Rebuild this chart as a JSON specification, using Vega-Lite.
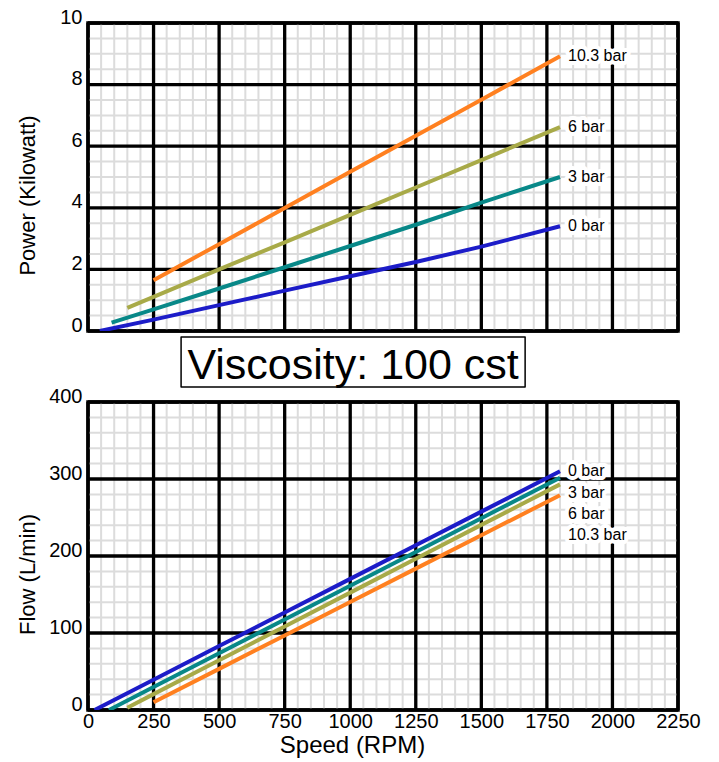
{
  "$schema": "https://vega.github.io/schema/vega-lite/v6.json",
  "background": "white",
  "padding": {"left": 14, "top": 5, "right": 5, "bottom": 2},
  "spacing": -4,
  "bounds": "full",
  "config": {
    "font": "Liberation Sans",
    "view": {"stroke": "black", "strokeWidth": 3.5},
    "axis": {"labelColor": "black", "titleColor": "black", "labelFont": "Liberation Sans", "titleFont": "Liberation Sans", "titleFontWeight": "normal", "ticks": false, "domain": false, "grid": false, "labelOverlap": false}
  },
  "datasets": {
    "rpmMinor": [
      {"rpm": 0}, {"rpm": 50}, {"rpm": 100}, {"rpm": 150}, {"rpm": 200}, {"rpm": 250}, {"rpm": 300}, {"rpm": 350}, {"rpm": 400}, {"rpm": 450},
      {"rpm": 500}, {"rpm": 550}, {"rpm": 600}, {"rpm": 650}, {"rpm": 700}, {"rpm": 750}, {"rpm": 800}, {"rpm": 850}, {"rpm": 900}, {"rpm": 950},
      {"rpm": 1000}, {"rpm": 1050}, {"rpm": 1100}, {"rpm": 1150}, {"rpm": 1200}, {"rpm": 1250}, {"rpm": 1300}, {"rpm": 1350}, {"rpm": 1400}, {"rpm": 1450},
      {"rpm": 1500}, {"rpm": 1550}, {"rpm": 1600}, {"rpm": 1650}, {"rpm": 1700}, {"rpm": 1750}, {"rpm": 1800}, {"rpm": 1850}, {"rpm": 1900}, {"rpm": 1950},
      {"rpm": 2000}, {"rpm": 2050}, {"rpm": 2100}, {"rpm": 2150}, {"rpm": 2200}, {"rpm": 2250}
    ],
    "rpmMajor": [
      {"rpm": 0}, {"rpm": 250}, {"rpm": 500}, {"rpm": 750}, {"rpm": 1000},
      {"rpm": 1250}, {"rpm": 1500}, {"rpm": 1750}, {"rpm": 2000}, {"rpm": 2250}
    ],
    "kwMinor": [
      {"kw": 0}, {"kw": 0.5}, {"kw": 1}, {"kw": 1.5}, {"kw": 2}, {"kw": 2.5}, {"kw": 3}, {"kw": 3.5}, {"kw": 4}, {"kw": 4.5},
      {"kw": 5}, {"kw": 5.5}, {"kw": 6}, {"kw": 6.5}, {"kw": 7}, {"kw": 7.5}, {"kw": 8}, {"kw": 8.5}, {"kw": 9}, {"kw": 9.5}, {"kw": 10}
    ],
    "kwMajor": [{"kw": 0}, {"kw": 2}, {"kw": 4}, {"kw": 6}, {"kw": 8}, {"kw": 10}],
    "lpmMinor": [
      {"lpm": 0}, {"lpm": 20}, {"lpm": 40}, {"lpm": 60}, {"lpm": 80}, {"lpm": 100}, {"lpm": 120}, {"lpm": 140}, {"lpm": 160}, {"lpm": 180},
      {"lpm": 200}, {"lpm": 220}, {"lpm": 240}, {"lpm": 260}, {"lpm": 280}, {"lpm": 300}, {"lpm": 320}, {"lpm": 340}, {"lpm": 360}, {"lpm": 380}, {"lpm": 400}
    ],
    "lpmMajor": [{"lpm": 0}, {"lpm": 100}, {"lpm": 200}, {"lpm": 300}, {"lpm": 400}],
    "power": [
      {"series": "0 bar", "rpm": 45, "kw": 0.0},
      {"series": "0 bar", "rpm": 250, "kw": 0.37},
      {"series": "0 bar", "rpm": 500, "kw": 0.84},
      {"series": "0 bar", "rpm": 750, "kw": 1.31},
      {"series": "0 bar", "rpm": 1000, "kw": 1.78},
      {"series": "0 bar", "rpm": 1250, "kw": 2.24},
      {"series": "0 bar", "rpm": 1500, "kw": 2.74},
      {"series": "0 bar", "rpm": 1800, "kw": 3.4},
      {"series": "3 bar", "rpm": 90, "kw": 0.27},
      {"series": "3 bar", "rpm": 250, "kw": 0.7},
      {"series": "3 bar", "rpm": 500, "kw": 1.38},
      {"series": "3 bar", "rpm": 750, "kw": 2.07},
      {"series": "3 bar", "rpm": 1000, "kw": 2.76},
      {"series": "3 bar", "rpm": 1250, "kw": 3.45},
      {"series": "3 bar", "rpm": 1500, "kw": 4.17},
      {"series": "3 bar", "rpm": 1800, "kw": 5.0},
      {"series": "6 bar", "rpm": 150, "kw": 0.75},
      {"series": "6 bar", "rpm": 250, "kw": 1.11},
      {"series": "6 bar", "rpm": 500, "kw": 2.0},
      {"series": "6 bar", "rpm": 750, "kw": 2.88},
      {"series": "6 bar", "rpm": 1000, "kw": 3.77},
      {"series": "6 bar", "rpm": 1250, "kw": 4.66},
      {"series": "6 bar", "rpm": 1500, "kw": 5.55},
      {"series": "6 bar", "rpm": 1800, "kw": 6.62},
      {"series": "10.3 bar", "rpm": 250, "kw": 1.65},
      {"series": "10.3 bar", "rpm": 500, "kw": 2.82},
      {"series": "10.3 bar", "rpm": 750, "kw": 3.99},
      {"series": "10.3 bar", "rpm": 1000, "kw": 5.17},
      {"series": "10.3 bar", "rpm": 1250, "kw": 6.34},
      {"series": "10.3 bar", "rpm": 1500, "kw": 7.51},
      {"series": "10.3 bar", "rpm": 1800, "kw": 8.92}
    ],
    "flow": [
      {"series": "0 bar", "rpm": 25, "lpm": 0},
      {"series": "0 bar", "rpm": 250, "lpm": 39.3},
      {"series": "0 bar", "rpm": 500, "lpm": 83},
      {"series": "0 bar", "rpm": 750, "lpm": 126.6},
      {"series": "0 bar", "rpm": 1000, "lpm": 170.3},
      {"series": "0 bar", "rpm": 1250, "lpm": 214},
      {"series": "0 bar", "rpm": 1500, "lpm": 257.6},
      {"series": "0 bar", "rpm": 1800, "lpm": 310},
      {"series": "3 bar", "rpm": 80, "lpm": 0},
      {"series": "3 bar", "rpm": 250, "lpm": 29.8},
      {"series": "3 bar", "rpm": 500, "lpm": 73.7},
      {"series": "3 bar", "rpm": 750, "lpm": 117.5},
      {"series": "3 bar", "rpm": 1000, "lpm": 161.4},
      {"series": "3 bar", "rpm": 1250, "lpm": 205.2},
      {"series": "3 bar", "rpm": 1500, "lpm": 249.1},
      {"series": "3 bar", "rpm": 1800, "lpm": 301.7},
      {"series": "6 bar", "rpm": 150, "lpm": 3},
      {"series": "6 bar", "rpm": 250, "lpm": 20.6},
      {"series": "6 bar", "rpm": 500, "lpm": 64.5},
      {"series": "6 bar", "rpm": 750, "lpm": 108.5},
      {"series": "6 bar", "rpm": 1000, "lpm": 152.4},
      {"series": "6 bar", "rpm": 1250, "lpm": 196.4},
      {"series": "6 bar", "rpm": 1500, "lpm": 240.4},
      {"series": "6 bar", "rpm": 1800, "lpm": 293},
      {"series": "10.3 bar", "rpm": 250, "lpm": 10},
      {"series": "10.3 bar", "rpm": 500, "lpm": 53.4},
      {"series": "10.3 bar", "rpm": 750, "lpm": 96.8},
      {"series": "10.3 bar", "rpm": 1000, "lpm": 140.2},
      {"series": "10.3 bar", "rpm": 1250, "lpm": 183.6},
      {"series": "10.3 bar", "rpm": 1500, "lpm": 227},
      {"series": "10.3 bar", "rpm": 1800, "lpm": 279}
    ]
  },
  "vconcat": [
    {
      "width": 590,
      "height": 308,
      "resolve": {"axis": {"x": "independent", "y": "independent"}},
      "layer": [
        {
          "data": {"name": "rpmMinor"},
          "mark": {"type": "rule", "color": "#dcdcdc", "strokeWidth": 2, "strokeJoin": "round"},
          "encoding": {"x": {"field": "rpm", "type": "quantitative", "scale": {"domain": [0, 2250], "nice": false, "zero": false}, "axis": null}}
        },
        {
          "data": {"name": "kwMinor"},
          "mark": {"type": "rule", "color": "#dcdcdc", "strokeWidth": 2, "strokeJoin": "round"},
          "encoding": {"y": {"field": "kw", "type": "quantitative", "scale": {"domain": [0, 10], "nice": false, "zero": false}, "axis": null}}
        },
        {
          "data": {"name": "kwMajor"},
          "mark": {"type": "rule", "color": "black", "strokeWidth": 3.3, "strokeJoin": "round"},
          "encoding": {"y": {"field": "kw", "type": "quantitative",
            "axis": {"orient": "left", "values": [0,2,4,6,8,10], "labelFontSize": 20, "labelBaseline": "alphabetic", "labelPadding": 6, "labelFlush": false, "title": "Power (Kilowatt)", "titleFontSize": 22, "titleX": -49, "titleY": 172}}}
        },
        {
          "data": {"name": "rpmMajor"},
          "mark": {"type": "rule", "color": "black", "strokeWidth": 3.3, "strokeJoin": "round"},
          "encoding": {"x": {"field": "rpm", "type": "quantitative", "axis": null}}
        },
        {
          "data": {"name": "power"},
          "mark": {"type": "line", "strokeWidth": 4, "strokeJoin": "round", "clip": true},
          "encoding": {
            "x": {"field": "rpm", "type": "quantitative", "axis": null},
            "y": {"field": "kw", "type": "quantitative", "axis": null},
            "color": {"field": "series", "type": "nominal", "legend": null,
              "scale": {"domain": ["0 bar", "3 bar", "6 bar", "10.3 bar"], "range": ["#1c1cc8", "#088888", "#a8aa48", "#ff8020"]}}
          }
        },
        {
          "data": {"name": "power"},
          "transform": [{"filter": "datum.rpm == 1800"}],
          "mark": {"type": "text", "align": "left", "baseline": "middle", "dx": 8, "fontSize": 16, "fill": "white", "stroke": "white", "strokeWidth": 8, "strokeJoin": "round"},
          "encoding": {
            "x": {"field": "rpm", "type": "quantitative", "axis": null},
            "y": {"field": "kw", "type": "quantitative", "axis": null},
            "text": {"field": "series", "type": "nominal"}
          }
        },
        {
          "data": {"name": "power"},
          "transform": [{"filter": "datum.rpm == 1800"}],
          "mark": {"type": "text", "align": "left", "baseline": "middle", "dx": 8, "fontSize": 16, "fill": "black"},
          "encoding": {
            "x": {"field": "rpm", "type": "quantitative", "axis": null},
            "y": {"field": "kw", "type": "quantitative", "axis": null},
            "text": {"field": "series", "type": "nominal"}
          }
        }
      ]
    },
    {
      "width": 590,
      "height": 50,
      "view": {"stroke": null},
      "data": {"values": [{"label": "Viscosity: 100 cst"}]},
      "layer": [
        {
          "mark": {"type": "rect", "fill": "white", "stroke": "black", "strokeWidth": 1.5, "strokeJoin": "round"},
          "encoding": {
            "x": {"datum": 355, "type": "quantitative", "scale": {"domain": [0, 2250], "nice": false, "zero": false}, "axis": null},
            "x2": {"datum": 1667}
          }
        },
        {
          "mark": {"type": "text", "fontSize": 43, "font": "Liberation Sans", "baseline": "alphabetic", "dy": 17, "align": "center", "fill": "black"},
          "encoding": {
            "x": {"datum": 1011, "type": "quantitative", "axis": null},
            "text": {"field": "label", "type": "nominal"}
          }
        }
      ]
    },
    {
      "width": 590,
      "height": 308,
      "resolve": {"axis": {"x": "independent", "y": "independent"}},
      "layer": [
        {
          "data": {"name": "rpmMinor"},
          "mark": {"type": "rule", "color": "#dcdcdc", "strokeWidth": 2, "strokeJoin": "round"},
          "encoding": {"x": {"field": "rpm", "type": "quantitative", "scale": {"domain": [0, 2250], "nice": false, "zero": false},
            "axis": {"orient": "bottom", "values": [0,250,500,750,1000,1250,1500,1750,2000,2250], "format": "d", "labelFontSize": 20, "labelPadding": 1, "labelFlush": false, "title": "Speed (RPM)", "titleFontSize": 24, "titleX": 264, "titlePadding": 2}}}
        },
        {
          "data": {"name": "lpmMinor"},
          "mark": {"type": "rule", "color": "#dcdcdc", "strokeWidth": 2, "strokeJoin": "round"},
          "encoding": {"y": {"field": "lpm", "type": "quantitative", "scale": {"domain": [0, 400], "nice": false, "zero": false}, "axis": null}}
        },
        {
          "data": {"name": "lpmMajor"},
          "mark": {"type": "rule", "color": "black", "strokeWidth": 3.3, "strokeJoin": "round"},
          "encoding": {"y": {"field": "lpm", "type": "quantitative",
            "axis": {"orient": "left", "values": [0,100,200,300,400], "labelFontSize": 20, "labelBaseline": "alphabetic", "labelPadding": 6, "labelFlush": false, "title": "Flow (L/min)", "titleFontSize": 22, "titleX": -49, "titleY": 172}}}
        },
        {
          "data": {"name": "rpmMajor"},
          "mark": {"type": "rule", "color": "black", "strokeWidth": 3.3, "strokeJoin": "round"},
          "encoding": {"x": {"field": "rpm", "type": "quantitative", "axis": null}}
        },
        {
          "data": {"name": "flow"},
          "mark": {"type": "line", "strokeWidth": 4, "strokeJoin": "round", "clip": true},
          "encoding": {
            "x": {"field": "rpm", "type": "quantitative", "axis": null},
            "y": {"field": "lpm", "type": "quantitative", "axis": null},
            "color": {"field": "series", "type": "nominal", "legend": null,
              "scale": {"domain": ["0 bar", "3 bar", "6 bar", "10.3 bar"], "range": ["#1c1cc8", "#088888", "#a8aa48", "#ff8020"]}}
          }
        },
        {
          "data": {"name": "flow"},
          "transform": [{"filter": "datum.rpm == 1800 && datum.series == '0 bar'"}],
          "mark": {"type": "text", "align": "left", "baseline": "middle", "dx": 8, "dy": 0, "fontSize": 16, "fill": "white", "stroke": "white", "strokeWidth": 8, "strokeJoin": "round"},
          "encoding": {"x": {"field": "rpm", "type": "quantitative", "axis": null}, "y": {"field": "lpm", "type": "quantitative", "axis": null}, "text": {"field": "series", "type": "nominal"}}
        },
        {
          "data": {"name": "flow"},
          "transform": [{"filter": "datum.rpm == 1800 && datum.series == '3 bar'"}],
          "mark": {"type": "text", "align": "left", "baseline": "middle", "dx": 8, "dy": 15, "fontSize": 16, "fill": "white", "stroke": "white", "strokeWidth": 8, "strokeJoin": "round"},
          "encoding": {"x": {"field": "rpm", "type": "quantitative", "axis": null}, "y": {"field": "lpm", "type": "quantitative", "axis": null}, "text": {"field": "series", "type": "nominal"}}
        },
        {
          "data": {"name": "flow"},
          "transform": [{"filter": "datum.rpm == 1800 && datum.series == '6 bar'"}],
          "mark": {"type": "text", "align": "left", "baseline": "middle", "dx": 8, "dy": 30, "fontSize": 16, "fill": "white", "stroke": "white", "strokeWidth": 8, "strokeJoin": "round"},
          "encoding": {"x": {"field": "rpm", "type": "quantitative", "axis": null}, "y": {"field": "lpm", "type": "quantitative", "axis": null}, "text": {"field": "series", "type": "nominal"}}
        },
        {
          "data": {"name": "flow"},
          "transform": [{"filter": "datum.rpm == 1800 && datum.series == '10.3 bar'"}],
          "mark": {"type": "text", "align": "left", "baseline": "middle", "dx": 8, "dy": 40, "fontSize": 16, "fill": "white", "stroke": "white", "strokeWidth": 8, "strokeJoin": "round"},
          "encoding": {"x": {"field": "rpm", "type": "quantitative", "axis": null}, "y": {"field": "lpm", "type": "quantitative", "axis": null}, "text": {"field": "series", "type": "nominal"}}
        },
        {
          "data": {"name": "flow"},
          "transform": [{"filter": "datum.rpm == 1800 && datum.series == '0 bar'"}],
          "mark": {"type": "text", "align": "left", "baseline": "middle", "dx": 8, "dy": 0, "fontSize": 16, "fill": "black"},
          "encoding": {"x": {"field": "rpm", "type": "quantitative", "axis": null}, "y": {"field": "lpm", "type": "quantitative", "axis": null}, "text": {"field": "series", "type": "nominal"}}
        },
        {
          "data": {"name": "flow"},
          "transform": [{"filter": "datum.rpm == 1800 && datum.series == '3 bar'"}],
          "mark": {"type": "text", "align": "left", "baseline": "middle", "dx": 8, "dy": 15, "fontSize": 16, "fill": "black"},
          "encoding": {"x": {"field": "rpm", "type": "quantitative", "axis": null}, "y": {"field": "lpm", "type": "quantitative", "axis": null}, "text": {"field": "series", "type": "nominal"}}
        },
        {
          "data": {"name": "flow"},
          "transform": [{"filter": "datum.rpm == 1800 && datum.series == '6 bar'"}],
          "mark": {"type": "text", "align": "left", "baseline": "middle", "dx": 8, "dy": 30, "fontSize": 16, "fill": "black"},
          "encoding": {"x": {"field": "rpm", "type": "quantitative", "axis": null}, "y": {"field": "lpm", "type": "quantitative", "axis": null}, "text": {"field": "series", "type": "nominal"}}
        },
        {
          "data": {"name": "flow"},
          "transform": [{"filter": "datum.rpm == 1800 && datum.series == '10.3 bar'"}],
          "mark": {"type": "text", "align": "left", "baseline": "middle", "dx": 8, "dy": 40, "fontSize": 16, "fill": "black"},
          "encoding": {"x": {"field": "rpm", "type": "quantitative", "axis": null}, "y": {"field": "lpm", "type": "quantitative", "axis": null}, "text": {"field": "series", "type": "nominal"}}
        }
      ]
    }
  ]
}
